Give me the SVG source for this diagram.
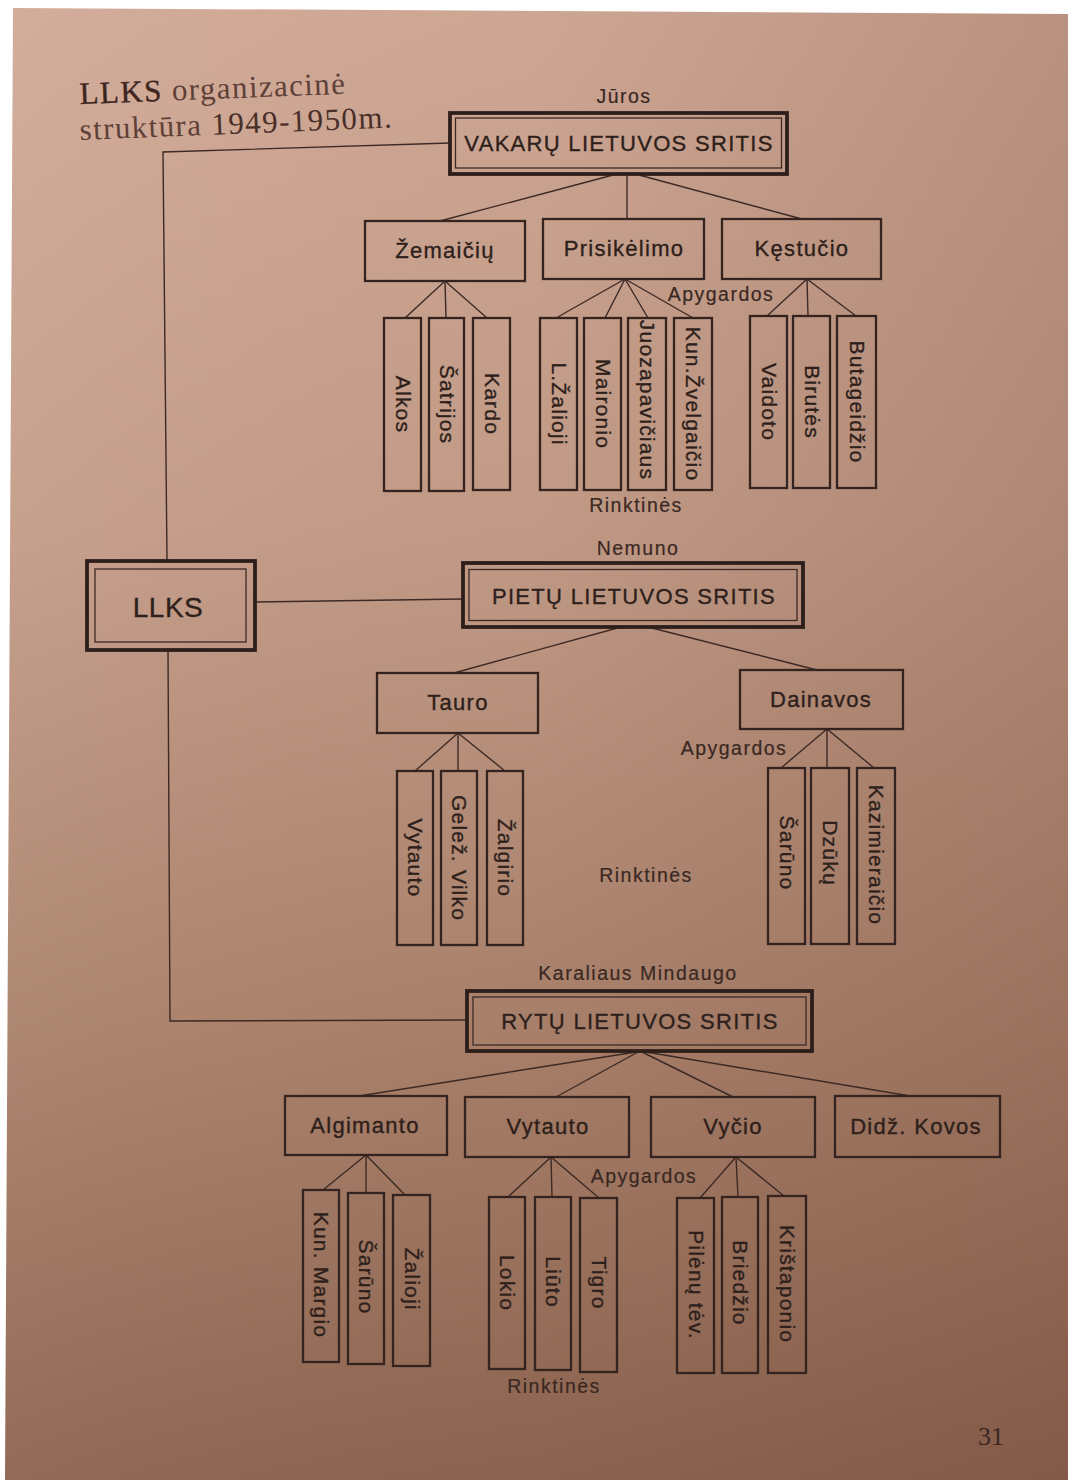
<svg xmlns="http://www.w3.org/2000/svg" width="1068" height="1480" viewBox="0 0 1068 1480">
<defs>
<linearGradient id="pg" x1="0" y1="0" x2="0" y2="1">
<stop offset="0" stop-color="#d1aa97"/>
<stop offset="0.35" stop-color="#c49d89"/>
<stop offset="0.7" stop-color="#a9816b"/>
<stop offset="1" stop-color="#8c6450"/>
</linearGradient>
<linearGradient id="sh" x1="0" y1="0" x2="1" y2="0">
<stop offset="0" stop-color="#fff3ea" stop-opacity="0.05"/>
<stop offset="0.5" stop-color="#5a3223" stop-opacity="0.03"/>
<stop offset="1" stop-color="#5a3223" stop-opacity="0.2"/>
</linearGradient>
<style>
.ln{stroke:#3d2a25;stroke-width:1.4;fill:none}
.bx{stroke:#35231f;stroke-width:2.3;fill:none}
.ob{stroke:#2e1e1b;stroke-width:3.8;fill:none}
.ib{stroke:#3d2a25;stroke-width:1.3;fill:none}
.t{font-family:"Liberation Sans",Arial,sans-serif;fill:#2e1f1b;stroke:#2e1f1b;stroke-width:0.35;text-anchor:middle}
.s{font-size:22px;letter-spacing:1.3px}
.v{font-size:21px;letter-spacing:1.2px}
.l{font-size:19.5px;letter-spacing:1.5px;fill:#3a2823;stroke:#3a2823;stroke-width:0.2}
.big{font-size:28px;letter-spacing:0.5px}
.ttl{font-family:"Liberation Serif","Times New Roman",serif;font-size:31px;letter-spacing:1.4px;fill:#5e4038}
</style>
</defs>
<rect width="1068" height="1480" fill="#ffffff"/>
<polygon points="13,8 1068,14 1068,1480 5,1480" fill="url(#pg)"/>
<polygon points="13,8 1068,14 1068,1480 5,1480" fill="url(#sh)"/>

<g id="title">
<text class="ttl" x="80" y="104" transform="rotate(-2.2 80 104)"><tspan fill="#3d2520" stroke="#3d2520" stroke-width="0.4">LLKS</tspan> organizacinė</text>
<text class="ttl" x="80" y="140" transform="rotate(-2.3 80 140)">struktūra <tspan fill="#4a2e28">1949-1950m.</tspan></text>
</g>

<g id="connectors">
<polyline class="ln" points="450,143 163,152 167,560"/>
<polyline class="ln" points="168,650 170,1021 467,1020"/>
<line class="ln" x1="255" y1="602" x2="463" y2="599"/>
<line class="ln" x1="613" y1="175" x2="440" y2="221"/>
<line class="ln" x1="627" y1="175" x2="627" y2="219"/>
<line class="ln" x1="639" y1="175" x2="802" y2="219"/>
<line class="ln" x1="445" y1="281" x2="405" y2="318"/>
<line class="ln" x1="445" y1="281" x2="446" y2="318"/>
<line class="ln" x1="445" y1="281" x2="487" y2="318"/>
<line class="ln" x1="625" y1="279" x2="556" y2="318"/>
<line class="ln" x1="625" y1="279" x2="605" y2="318"/>
<line class="ln" x1="625" y1="279" x2="648" y2="318"/>
<line class="ln" x1="625" y1="279" x2="693" y2="318"/>
<line class="ln" x1="807" y1="279" x2="767" y2="316"/>
<line class="ln" x1="807" y1="279" x2="808" y2="316"/>
<line class="ln" x1="807" y1="279" x2="856" y2="316"/>
<line class="ln" x1="621" y1="627" x2="454" y2="673"/>
<line class="ln" x1="648" y1="627" x2="817" y2="670"/>
<line class="ln" x1="458" y1="733" x2="415" y2="771"/>
<line class="ln" x1="458" y1="733" x2="458" y2="771"/>
<line class="ln" x1="458" y1="733" x2="505" y2="771"/>
<line class="ln" x1="827" y1="729" x2="781" y2="768"/>
<line class="ln" x1="827" y1="729" x2="827" y2="768"/>
<line class="ln" x1="827" y1="729" x2="874" y2="768"/>
<line class="ln" x1="636" y1="1052" x2="359" y2="1096"/>
<line class="ln" x1="638" y1="1052" x2="556" y2="1097"/>
<line class="ln" x1="642" y1="1052" x2="733" y2="1097"/>
<line class="ln" x1="646" y1="1052" x2="910" y2="1096"/>
<line class="ln" x1="366" y1="1155" x2="323" y2="1190"/>
<line class="ln" x1="366" y1="1155" x2="366" y2="1193"/>
<line class="ln" x1="366" y1="1155" x2="405" y2="1195"/>
<line class="ln" x1="551" y1="1157" x2="508" y2="1197"/>
<line class="ln" x1="551" y1="1157" x2="552" y2="1197"/>
<line class="ln" x1="551" y1="1157" x2="599" y2="1198"/>
<line class="ln" x1="736" y1="1157" x2="700" y2="1198"/>
<line class="ln" x1="736" y1="1157" x2="738" y2="1197"/>
<line class="ln" x1="736" y1="1157" x2="784" y2="1196"/>
</g>

<g id="labels">
<text class="t l" x="624" y="103">Jūros</text>
<text class="t l" x="721" y="301">Apygardos</text>
<text class="t l" x="636" y="512">Rinktinės</text>
<text class="t l" x="638" y="555">Nemuno</text>
<text class="t l" x="734" y="755">Apygardos</text>
<text class="t l" x="646" y="882">Rinktinės</text>
<text class="t l" x="638" y="980">Karaliaus Mindaugo</text>
<text class="t l" x="644" y="1183">Apygardos</text>
<text class="t l" x="554" y="1393">Rinktinės</text>
</g>

<g id="llks">
<rect class="ob" x="87" y="561" width="168" height="89"/>
<rect class="ib" x="95" y="569" width="151" height="73"/>
<text class="t big" x="168" y="617">LLKS</text>
</g>

<g id="vakaru">
<rect class="ob" x="450" y="113" width="337" height="61"/>
<rect class="ib" x="455.5" y="118" width="326" height="50"/>
<text class="t s" x="619" y="151">VAKARŲ LIETUVOS SRITIS</text>
</g>
<g id="zemaiciu"><rect class="bx" x="365" y="221" width="160" height="60"/><text class="t s" x="445" y="258">Žemaičių</text></g>
<g id="prisikelimo"><rect class="bx" x="543" y="219" width="161" height="60"/><text class="t s" x="624" y="256">Prisikėlimo</text></g>
<g id="kestucio"><rect class="bx" x="722" y="219" width="159" height="60"/><text class="t s" x="802" y="256">Kęstučio</text></g>

<g id="alkos"><rect class="bx" x="384" y="318" width="37" height="173"/><text class="t v" transform="translate(402.5 404.5) rotate(90)" y="7">Alkos</text></g>
<g id="satrijos"><rect class="bx" x="429" y="318" width="35" height="173"/><text class="t v" transform="translate(446.5 404.5) rotate(90)" y="7">Šatrijos</text></g>
<g id="kardo"><rect class="bx" x="473" y="318" width="37" height="172"/><text class="t v" transform="translate(491.5 404) rotate(90)" y="7">Kardo</text></g>
<g id="lzalioji"><rect class="bx" x="540" y="318" width="37" height="172"/><text class="t v" transform="translate(558.5 404) rotate(90)" y="7">L.Žalioji</text></g>
<g id="maironio"><rect class="bx" x="584" y="318" width="37" height="172"/><text class="t v" transform="translate(602.5 404) rotate(90)" y="7">Maironio</text></g>
<g id="juozapaviciaus"><rect class="bx" x="628" y="318" width="38" height="172"/><text class="t v" transform="translate(647 400) rotate(90)" y="7">Juozapavičiaus</text></g>
<g id="zvelgaicio"><rect class="bx" x="674" y="318" width="38" height="172"/><text class="t v" transform="translate(693 404) rotate(90)" y="7">Kun.Žvelgaičio</text></g>
<g id="vaidoto"><rect class="bx" x="750" y="316" width="37" height="172"/><text class="t v" transform="translate(768.5 402) rotate(90)" y="7">Vaidoto</text></g>
<g id="birutes"><rect class="bx" x="793" y="316" width="37" height="172"/><text class="t v" transform="translate(811.5 402) rotate(90)" y="7">Birutės</text></g>
<g id="butageidzio"><rect class="bx" x="837" y="316" width="39" height="172"/><text class="t v" transform="translate(856.5 402) rotate(90)" y="7">Butageidžio</text></g>

<g id="pietu">
<rect class="ob" x="463" y="563" width="340" height="64"/>
<rect class="ib" x="469" y="569.5" width="328" height="51"/>
<text class="t s" x="634" y="604">PIETŲ LIETUVOS SRITIS</text>
</g>
<g id="tauro"><rect class="bx" x="377" y="673" width="161" height="60"/><text class="t s" x="458" y="710">Tauro</text></g>
<g id="dainavos"><rect class="bx" x="740" y="670" width="163" height="59"/><text class="t s" x="821" y="707">Dainavos</text></g>
<g id="vytauto1"><rect class="bx" x="397" y="771" width="36" height="174"/><text class="t v" transform="translate(415 858) rotate(90)" y="7">Vytauto</text></g>
<g id="gelez"><rect class="bx" x="441" y="771" width="36" height="174"/><text class="t v" transform="translate(459 858) rotate(90)" y="7">Gelež. Vilko</text></g>
<g id="zalgirio"><rect class="bx" x="487" y="771" width="36" height="174"/><text class="t v" transform="translate(505 858) rotate(90)" y="7">Žalgirio</text></g>
<g id="saruno1"><rect class="bx" x="768" y="768" width="37" height="176"/><text class="t v" transform="translate(786.5 853) rotate(90)" y="7">Šarūno</text></g>
<g id="dzuku"><rect class="bx" x="811" y="768" width="38" height="176"/><text class="t v" transform="translate(830 853) rotate(90)" y="7">Dzūkų</text></g>
<g id="kazimieraicio"><rect class="bx" x="857" y="768" width="38" height="176"/><text class="t v" transform="translate(876 855) rotate(90)" y="7">Kazimieraičio</text></g>

<g id="rytu">
<rect class="ob" x="467" y="991" width="345" height="60"/>
<rect class="ib" x="473" y="997" width="333" height="48"/>
<text class="t s" x="640" y="1029">RYTŲ LIETUVOS SRITIS</text>
</g>
<g id="algimanto"><rect class="bx" x="285" y="1096" width="162" height="59"/><text class="t s" x="365" y="1133">Algimanto</text></g>
<g id="vytauto2"><rect class="bx" x="465" y="1097" width="164" height="60"/><text class="t s" x="548" y="1134">Vytauto</text></g>
<g id="vycio"><rect class="bx" x="651" y="1097" width="164" height="60"/><text class="t s" x="733" y="1134">Vyčio</text></g>
<g id="didz"><rect class="bx" x="835" y="1096" width="165" height="61"/><text class="t s" x="916" y="1134">Didž. Kovos</text></g>
<g id="margio"><rect class="bx" x="303" y="1190" width="36" height="172"/><text class="t v" transform="translate(321 1275) rotate(90)" y="7">Kun. Margio</text></g>
<g id="saruno2"><rect class="bx" x="348" y="1193" width="36" height="171"/><text class="t v" transform="translate(366 1277) rotate(90)" y="7">Šarūno</text></g>
<g id="zalioji"><rect class="bx" x="393" y="1195" width="37" height="171"/><text class="t v" transform="translate(411.5 1279) rotate(90)" y="7">Žalioji</text></g>
<g id="lokio"><rect class="bx" x="489" y="1197" width="36" height="172"/><text class="t v" transform="translate(507 1283) rotate(90)" y="7">Lokio</text></g>
<g id="liuto"><rect class="bx" x="535" y="1197" width="36" height="173"/><text class="t v" transform="translate(553 1282) rotate(90)" y="7">Liūto</text></g>
<g id="tigro"><rect class="bx" x="580" y="1198" width="37" height="174"/><text class="t v" transform="translate(598.5 1283) rotate(90)" y="7">Tigro</text></g>
<g id="pilenu"><rect class="bx" x="677" y="1198" width="37" height="175"/><text class="t v" transform="translate(695.5 1285) rotate(90)" y="7">Pilėnų tėv.</text></g>
<g id="briedzio"><rect class="bx" x="722" y="1197" width="36" height="176"/><text class="t v" transform="translate(740 1283) rotate(90)" y="7">Briedžio</text></g>
<g id="kristaponio"><rect class="bx" x="768" y="1196" width="38" height="177"/><text class="t v" transform="translate(787 1284) rotate(90)" y="7">Krištaponio</text></g>

<g id="page-number">
<text x="991" y="1445" style="font-family:'Liberation Serif','Times New Roman',serif;font-size:26px;fill:#3a2622;text-anchor:middle">31</text>
</g>
</svg>
